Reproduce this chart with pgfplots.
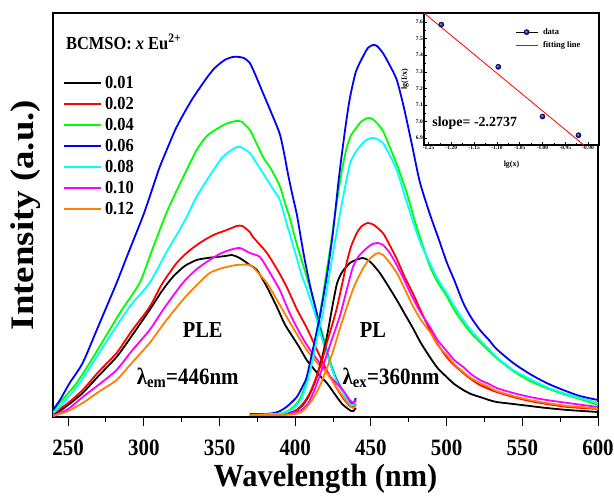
\documentclass[border=0pt]{standalone}
\usepackage{fontspec}
\setmainfont{Liberation Serif}
\usepackage{graphicx}
\usepackage{pgfplots}
\pgfplotsset{compat=1.18}

\definecolor{cblue}{RGB}{0,0,255}
\definecolor{cred}{RGB}{255,0,0}
\definecolor{cgreen}{RGB}{0,255,0}
\definecolor{ccyan}{RGB}{0,255,255}
\definecolor{cmag}{RGB}{255,0,255}
\definecolor{corange}{RGB}{255,128,0}

% slightly tall lettering
\newcommand\vs[1]{\scalebox{1}[1.12]{#1}}
\newcommand\hs[1]{\scalebox{1.12}[1]{#1}}

\pgfplotsset{
  spec/.style={line width=1.8bp, smooth, tension=0.4, mark=none},
  ballleg/.style={legend image code/.code={\path (0bp,0bp) -- (22bp,0bp); \shade[ball color=cblue] (11bp,0bp) circle (2.6bp);}},
  lineleg/.style={legend image code/.code={\draw[cred, line width=0.8bp] (0bp,0bp) -- (22bp,0bp);}},
}

\begin{document}
\begin{tikzpicture}
\useasboundingbox (0,0) rectangle (614bp,497bp);

% ---------------- main spectra ----------------
\begin{axis}[
  at={(53bp,80bp)}, anchor=south west,
  scale only axis, width=545bp, height=404bp,
  xmin=240, xmax=600, ymin=7, ymax=411,
  axis line style={line width=1.2bp},
  ytick=\empty,
  xtick={250,300,350,400,450,500,550,600},
  xticklabels={\vs{250},\vs{300},\vs{350},\vs{400},\vs{450},\vs{500},\vs{550},\vs{600}},
  minor x tick num=1,
  tick pos=left, tick align=outside,
  major tick length=9bp, minor tick length=5bp,
  every tick/.style={black, line width=1bp},
  xticklabel style={font=\fontsize{21}{21}\selectfont\bfseries, inner sep=1bp, yshift=-13bp},
  xlabel={\scalebox{1}[1.06]{Wavelength (nm)}},
  xlabel style={font=\fontsize{30.5}{30.5}\selectfont\bfseries, inner sep=0pt, at={(axis description cs:0.5,-0.153)}, anchor=center},
  ylabel={\hs{Intensity (a.u.)}},
  ylabel style={font=\fontsize{33}{33}\selectfont\bfseries, at={(axis description cs:-0.051,0.5)}, anchor=center},
  legend cell align=left,
  legend image code/.code={\draw[#1, line width=2bp] (0bp,0bp) -- (37bp,0bp);},
  legend style={at={(rel axis cs:0.018,0.844)}, anchor=north west, draw=none, fill=none,
    inner sep=0pt, row sep=8bp, column sep=3bp,
    font=\fontsize{16.5}{16.5}\selectfont\bfseries,
    nodes={inner sep=0pt, text height=12bp, text depth=1bp}},
]

% excitation spectra (lambda_em = 446 nm)
\addplot[spec, black] coordinates {
(240,9) (242.4,11) (250,19) (259.6,31) (270,48) (282,67) (292,88) (303.8,114) (312,133) (319.1,147) (327,158) (334.9,164) (342,166) (348.1,167) (354,168) (358.1,169) (362,167) (365.4,164) (370,159) (374.7,154) (381,138) (387.9,117) (393,100) (398.4,87) (403,76) (407.6,64) (414,52) (420.9,41) (427,28) (431,20) (434.1,16) (437,13) (438.5,13) (440,16)};
\addlegendentry{\vs{0.01}}
\addplot[spec, cred] coordinates {
(240,11) (242.4,13) (250,21) (259.6,34) (270,52) (282,71) (292,93) (303.8,117) (312,140) (321.7,161) (329,172) (336.9,181) (346,189) (354.8,194) (361.4,198) (365,198) (370,192) (372.1,187) (381.3,171) (389.8,150) (395,135) (401,115) (408,95) (415,72) (422,50) (429,32) (433,23) (436,18) (438.5,17) (440,20)};
\addlegendentry{\vs{0.02}}
\addplot[spec, cgreen] coordinates {
(240,12) (245,22) (255.6,41) (265,63) (275,88) (285,113) (297.2,141) (305,172) (313.8,207) (320,228) (327,250) (334.9,274) (341,287) (346,293) (354,300) (358,302) (361.4,303) (365,302) (370,294) (374,282) (378.7,267) (384,255) (389.8,238) (393,222) (396.4,206) (401,180) (405,160) (409.6,137) (414.2,111) (418,90) (422.8,64) (427,46) (432.8,30) (436.1,21) (438.5,20) (440,24)};
\addlegendentry{\vs{0.04}}
\addplot[spec, cblue] coordinates {
(240,14) (245,25) (251,41) (259.6,61) (270,98) (282,141) (290,172) (299.2,207) (303.8,227) (310,255) (315.1,274) (321,295) (327,312) (332,325) (336.9,336) (342,347) (346.8,356) (353.4,364) (358.7,367) (363.4,367) (366,366) (370,361) (374,348) (378.7,331) (384,312) (389.8,290) (393,268) (395.1,251) (398,230) (401,210) (403.5,188) (406.3,164) (410,137) (414.2,111) (418,86) (422.8,62) (427,45) (432.8,29) (436.1,22) (438.5,21) (440,26)};
\addlegendentry{\vs{0.06}}
\addplot[spec, ccyan] coordinates {
(240,11) (245,18) (257.6,41) (270,70) (282,98) (292,120) (303.8,141) (315,172) (322,190) (328.3,207) (334,225) (340,240) (346,254) (351,265) (356,272) (361.4,277) (364,277) (370,271) (374,262) (378.7,251) (385.3,235) (389.8,224) (394.4,200) (396.4,190) (401,166) (404,150) (407.6,135) (412.9,111) (418,84) (422.8,62) (427,44) (432.8,28) (436.1,20) (438.5,19) (440,23)};
\addlegendentry{\vs{0.08}}
\addplot[spec, cmag] coordinates {
(240,9) (242.4,10) (250,15) (259.6,27) (270,39) (282,54) (292,73) (303.8,94) (314,117) (325.7,141) (335,155) (343.5,164) (350,170) (356.7,174) (363.4,176) (370,171) (376.7,167) (383,152) (389.8,134) (396,112) (403,91) (409,76) (416.2,61) (424,46) (431.4,34) (436,24) (438.5,21) (440,24)};
\addlegendentry{\vs{0.10}}
\addplot[spec, corange] coordinates {
(240,8) (242.4,9) (250,13) (259.6,21) (270,32) (282,44) (292,61) (303.8,81) (314,102) (325.7,124) (335,139) (343.5,151) (352,156) (361.4,159) (370,159) (375,152) (381.3,141) (388,124) (394.4,107) (401,90) (407.6,74) (414,62) (420.9,51) (428,35) (434.1,22) (437,17) (438.5,16) (440,19)};
\addlegendentry{\vs{0.12}}

% emission spectra (lambda_ex = 360 nm)
\addplot[spec, black, forget plot] coordinates {
(370,9) (388,9) (396,11) (401,14) (405,19) (409,28) (413,42) (417,62) (421,88) (424,113) (427.5,140) (431,152) (436.1,161) (440,164) (444.6,166) (448,164) (451,160) (455.9,151) (461,139) (467.1,124) (472,111) (477.7,96) (483,81) (488.9,67) (494,56) (500,47) (505,40) (511,34) (516,30) (522,27) (528,24) (533,22) (544,20) (555,18) (566,16) (580,14) (590,13) (600,12)};
\addplot[spec, cred, forget plot] coordinates {
(370,9) (385,9) (395,10) (401,14) (406,22) (410,32) (414,47) (418,65) (421,82) (424,97) (427.5,116) (431,140) (434.1,162) (437,178) (440.7,191) (444,198) (448,201) (452,199) (457.9,191) (462,180) (467.1,165) (472,148) (477.9,130) (483,113) (489,94) (494,80) (500,67) (505,59) (511,51) (516,45) (522,39) (528,35) (533,32) (544,27) (555,23) (566,20) (580,17) (590,16) (600,15)};
\addplot[spec, cgreen, forget plot] coordinates {
(370,9) (385,10) (392,11) (398,16) (403,25) (408,45) (412,75) (416.2,109) (420,145) (424,185) (427.5,222) (431,255) (434.1,277) (437,289) (440.7,297) (444,303) (448,306) (451,305) (453.9,301) (458,293) (462.5,277) (468,256) (473.7,231) (479,203) (484.3,178) (488.9,158) (494,142) (500,128) (505,114) (511,101) (516,91) (522,82) (528,73) (533,66) (544,53) (555,43) (566,36) (577,30) (588,25) (600,19)};
\addplot[spec, cblue, forget plot] coordinates {
(370,10) (380,10) (386,11) (390,13) (395,18) (401,27) (405,38) (407.6,47) (411.6,74) (416.2,107) (420.9,148) (424.8,190) (429,248) (433,295) (436,325) (440,352) (444.6,367) (448,376) (451.3,379) (454,378) (457.9,371) (462,360) (467.1,344) (472,315) (477,280) (482.3,242) (488.9,210) (495,184) (500,162) (505,144) (511,121) (516,107) (522,94) (528,84) (533,75) (544,61) (555,50) (566,41) (577,34) (588,28) (600,24)};
\addplot[spec, ccyan, forget plot] coordinates {
(370,9) (385,10) (393,11) (399,16) (404,25) (408,42) (412,68) (415,90) (418.2,110) (422,145) (426,180) (431,222) (436.1,260) (440,272) (444.6,281) (448,285) (451.3,286) (454,285) (457.9,281) (462,270) (467.1,254) (472,230) (477.9,202) (483,180) (488.9,161) (494,145) (500,131) (505,118) (511,104) (516,94) (522,84) (528,75) (533,67) (544,54) (555,45) (566,37) (577,31) (588,26) (600,21)};
\addplot[spec, cmag, forget plot] coordinates {
(370,9) (390,9) (398,11) (404,14) (409,22) (413,35) (417,52) (421,70) (425,88) (429.5,108) (434,134) (438.1,157) (442,168) (447.3,176) (451,180) (454.6,181) (458,179) (462,172) (467.1,159) (472,144) (477.7,126) (483,111) (489,97) (494,84) (500,73) (505,64) (511,57) (516,50) (522,44) (528,40) (533,36) (544,31) (555,27) (566,24) (580,21) (590,19) (600,17)};
\addplot[spec, corange, forget plot] coordinates {
(370,9) (392,9) (400,10) (404,12) (407.6,17) (412,26) (416.2,38) (420,52) (424.8,72) (429,93) (434.1,117) (439,138) (444.6,155) (448,163) (451.3,168) (454.6,171) (458,169) (462,162) (467.1,151) (472,136) (477.7,118) (483,104) (489,92) (494,79) (500,69) (505,60) (511,52) (516,46) (522,41) (528,37) (533,33) (544,28) (555,24) (566,21) (580,18) (590,17) (600,15)};

% annotations
\node[anchor=west, font=\fontsize{16.5}{16.5}\selectfont\bfseries] at (axis cs:246.3,382) {\vs{BCMSO: \textit{x} Eu\textsuperscript{2+}}};
\node[font=\fontsize{20.5}{20.5}\selectfont\bfseries] at (axis cs:338.9,94) {\vs{PLE}};
\node[font=\fontsize{20.5}{20.5}\selectfont\bfseries] at (axis cs:451.3,94) {\vs{PL}};
\node[anchor=west, font=\fontsize{21}{21}\selectfont\bfseries] at (axis cs:293,46) {\vs{λ\textsubscript{em}=446nm}};
\node[anchor=west, font=\fontsize{21}{21}\selectfont\bfseries] at (axis cs:429,46) {\vs{λ\textsubscript{ex}=360nm}};
\end{axis}

% ---------------- inset: lg(I/x) versus lg(x) ----------------
\begin{axis}[
  at={(424bp,352bp)}, anchor=south west,
  scale only axis, width=175bp, height=132bp,
  xmin=-1.26, xmax=-0.876, ymin=6.858, ymax=7.655,
  axis background/.style={fill=white},
  axis line style={line width=1.2bp},
  xtick={-1.25,-1.20,-1.15,-1.10,-1.05,-1.00,-0.95,-0.90},
  xticklabels={-1.25,-1.20,-1.15,-1.10,-1.05,-1.00,-0.95,-0.90},
  ytick={6.9,7.0,7.1,7.2,7.3,7.4,7.5,7.6},
  yticklabels={6.9,7.0,7.1,7.2,7.3,7.4,7.5,7.6},
  minor x tick num=1, minor y tick num=1,
  tick pos=left,
  major tick length=2.5bp, minor tick length=1.5bp,
  every tick/.style={black, line width=0.5bp},
  tick label style={font=\fontsize{5.5}{5.5}\selectfont\bfseries, inner sep=1bp},
  xlabel={lg(x)}, ylabel={lg(I/x)},
  label style={font=\fontsize{8}{8}\selectfont\bfseries},
  xlabel style={at={(axis description cs:0.5,-0.152)}, anchor=center},
  ylabel style={at={(axis description cs:-0.109,0.5)}, anchor=center},
  legend cell align=left,
  legend style={at={(rel axis cs:0.52,0.883)}, anchor=north west, draw=none, fill=none,
    inner sep=0pt, row sep=6bp, column sep=5bp,
    font=\fontsize{8.5}{8.5}\selectfont\bfseries,
    nodes={inner sep=0pt, text height=6bp, text depth=1bp}},
]
\addplot[only marks, mark=ball, mark size=2.6bp, mark options={ball color=cblue}, ballleg]
  coordinates {(-1.222,7.585) (-1.097,7.33) (-1.0,7.03) (-0.921,6.917)};
\addlegendentry{data}
\addplot[cred, line width=0.8bp, lineleg]
  coordinates {(-1.26,7.655) (-0.876,6.782)};
\addlegendentry{fitting line}
\node[font=\fontsize{14}{14}\selectfont\bfseries] at (rel axis cs:0.29,0.167) {slope= -2.2737};
\end{axis}
\end{tikzpicture}
\end{document}
